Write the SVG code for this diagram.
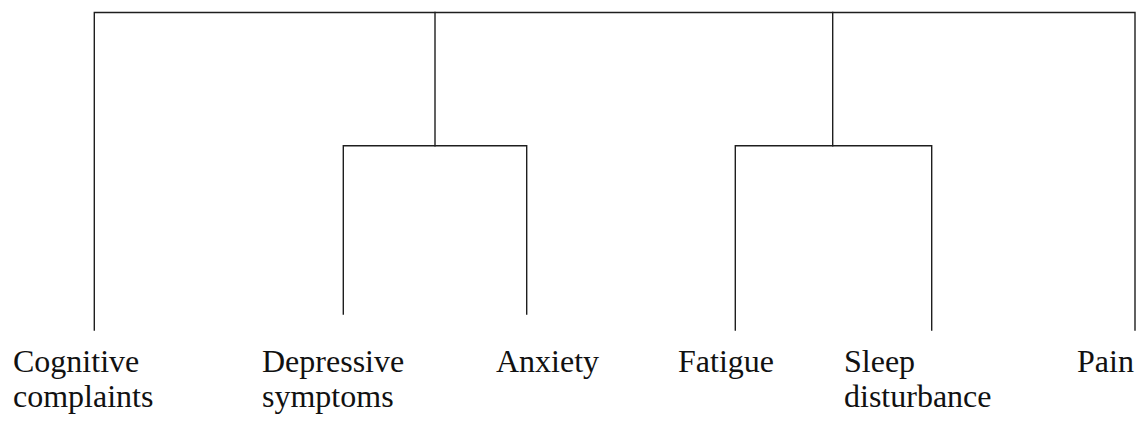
<svg xmlns="http://www.w3.org/2000/svg" width="1146" height="421" viewBox="0 0 1146 421">
  <style>
    .link { fill: none; stroke: #1e1e1e; stroke-width: 1.4; stroke-linecap: square; }
    .label { font-size: 32px; fill: #111; }
  </style>
  <rect width="1146" height="421" fill="#ffffff"/>

  <!-- dendrogram links -->
  <g id="connectors">
    <!-- root bar -->
    <path class="link" d="M94.3,330 V12.5 H1135 V330"/>
    <path class="link" d="M435,12.5 V145.7"/>
    <path class="link" d="M832.7,12.5 V145.7"/>
    <!-- left cluster -->
    <path class="link" d="M343.3,314 V145.7 H526.7 V314"/>
    <!-- right cluster -->
    <path class="link" d="M735.3,330 V145.7 H931.7 V330"/>
  </g>

  <!-- leaves -->
  <g font-family="Liberation Serif, serif">
    <g id="node-cognitive">
      <text class="label" x="13" y="372">Cognitive</text>
      <text class="label" x="13" y="407">complaints</text>
    </g>
    <g id="node-depressive">
      <text class="label" x="262" y="372">Depressive</text>
      <text class="label" x="262" y="407">symptoms</text>
    </g>
    <g id="node-anxiety">
      <text class="label" x="496" y="372">Anxiety</text>
    </g>
    <g id="node-fatigue">
      <text class="label" x="678" y="372">Fatigue</text>
    </g>
    <g id="node-sleep">
      <text class="label" x="844" y="372">Sleep</text>
      <text class="label" x="844" y="407">disturbance</text>
    </g>
    <g id="node-pain">
      <text class="label" x="1077" y="372">Pain</text>
    </g>
  </g>
</svg>
